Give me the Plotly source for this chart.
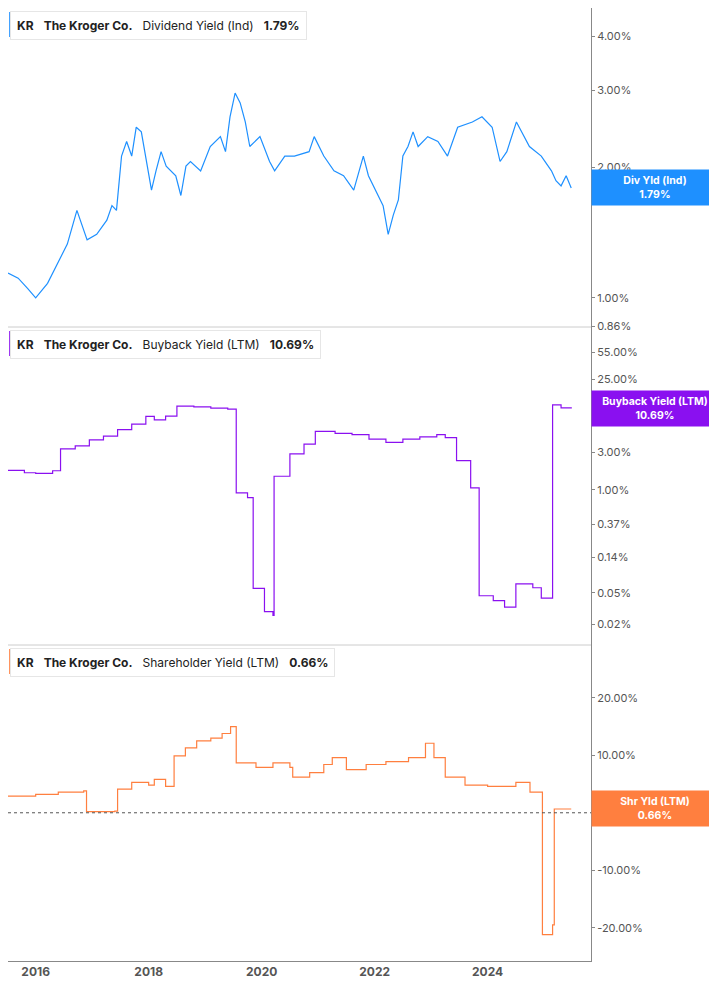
import math
import plotly.graph_objects as go
from plotly.subplots import make_subplots

# Dividend yield (Ind), % - decimal years
div_years = [2015.51, 2015.69, 2015.86, 2016.0, 2016.21, 2016.38, 2016.56, 2016.73, 2016.91, 2017.08,
             2017.26, 2017.35, 2017.43, 2017.52, 2017.61, 2017.70, 2017.78, 2017.87, 2017.96, 2018.05,
             2018.13, 2018.22, 2018.31, 2018.48, 2018.57, 2018.66, 2018.74, 2018.92, 2019.09, 2019.27,
             2019.36, 2019.44, 2019.53, 2019.62, 2019.71, 2019.79, 2019.97, 2020.14, 2020.23, 2020.41,
             2020.58, 2020.84, 2020.93, 2021.10, 2021.28, 2021.45, 2021.63, 2021.80, 2021.89, 2021.98,
             2022.15, 2022.24, 2022.33, 2022.42, 2022.50, 2022.59, 2022.68, 2022.77, 2022.94, 2023.12,
             2023.29, 2023.47, 2023.73, 2023.90, 2024.08, 2024.22, 2024.34, 2024.51, 2024.64, 2024.74,
             2024.95, 2025.13, 2025.21, 2025.30, 2025.39, 2025.48]
div_yield = [1.14, 1.11, 1.05, 1.00, 1.08, 1.20, 1.33, 1.59, 1.36, 1.40,
             1.51, 1.63, 1.59, 2.12, 2.29, 2.12, 2.47, 2.41, 2.06, 1.77,
             1.96, 2.17, 2.01, 1.91, 1.72, 2.01, 2.06, 1.96, 2.23, 2.35,
             2.17, 2.61, 2.96, 2.81, 2.54, 2.23, 2.35, 2.06, 1.96, 2.12,
             2.12, 2.17, 2.35, 2.12, 1.96, 1.91, 1.77, 2.12, 1.91, 1.81,
             1.63, 1.40, 1.55, 1.68, 2.12, 2.23, 2.41, 2.23, 2.35, 2.29,
             2.12, 2.47, 2.54, 2.61, 2.47, 2.06, 2.17, 2.54, 2.35, 2.23,
             2.12, 1.96, 1.86, 1.81, 1.91, 1.79]

# Buyback yield (LTM), %
bb_years = [2015.51, 2015.8, 2016.0, 2016.3, 2016.44, 2016.7, 2016.95, 2017.2, 2017.45, 2017.7,
            2017.95, 2018.1, 2018.3, 2018.5, 2018.8, 2019.1, 2019.4, 2019.55, 2019.75, 2019.85,
            2020.05, 2020.2, 2020.22, 2020.5, 2020.75, 2020.95, 2021.3, 2021.6, 2021.9, 2022.2,
            2022.5, 2022.8, 2023.1, 2023.25, 2023.45, 2023.7, 2023.85, 2024.1, 2024.3, 2024.5,
            2024.8, 2024.95, 2025.15, 2025.3, 2025.48]
bb_yield = [1.77, 1.65, 1.62, 1.75, 3.3, 3.6, 4.3, 4.8, 5.8, 6.8,
            8.5, 7.7, 8.6, 11.5, 11.2, 10.8, 10.5, 0.92, 0.80, 0.057,
            0.029, 0.026, 1.49, 2.86, 3.8, 5.5, 5.2, 5.0, 4.4, 4.0,
            4.4, 4.7, 5.0, 4.6, 2.35, 1.06, 0.046, 0.040, 0.033, 0.065,
            0.058, 0.043, 11.9, 10.9, 10.69]

# Shareholder yield (LTM), %
sh_years = [2015.51, 2016.0, 2016.4, 2016.85, 2016.9, 2017.4, 2017.45, 2017.7, 2018.0, 2018.1,
            2018.3, 2018.45, 2018.65, 2018.85, 2019.1, 2019.3, 2019.45, 2019.55, 2019.9, 2020.2,
            2020.5, 2020.55, 2020.85, 2021.1, 2021.25, 2021.5, 2021.85, 2022.2, 2022.6, 2022.9,
            2023.05, 2023.25, 2023.6, 2024.0, 2024.5, 2024.75, 2024.95, 2024.97, 2025.15, 2025.18,
            2025.48]
sh_yield = [2.9, 3.2, 3.6, 3.8, 0.2, 0.3, 4.1, 5.3, 4.8, 5.8,
            4.6, 9.9, 11.3, 12.5, 13.0, 13.8, 15.0, 8.7, 7.9, 8.7,
            7.9, 6.2, 7.0, 8.4, 9.6, 7.5, 8.4, 8.9, 9.6, 12.1,
            9.6, 6.2, 4.8, 4.6, 5.3, 3.6, 3.6, -21.2, -19.5, 0.66,
            0.66]

BLUE = "#1e90ff"
PURPLE = "#8a10f0"
ORANGE = "#ff7f3f"
GRID = "#cccccc"
TXT = "#555555"
FONT = "Inter"

fig = make_subplots(rows=3, cols=1, shared_xaxes=True, vertical_spacing=0)

fig.add_trace(go.Scatter(x=div_years, y=div_yield, mode="lines",
                         line=dict(color=BLUE, width=1.2)), row=1, col=1)
fig.add_trace(go.Scatter(x=bb_years, y=bb_yield, mode="lines", line_shape="hv",
                         line=dict(color=PURPLE, width=1.2)), row=2, col=1)
fig.add_trace(go.Scatter(x=sh_years, y=sh_yield, mode="lines", line_shape="hv",
                         line=dict(color=ORANGE, width=1.2)), row=3, col=1)

h = 1005.0 - 52
d1 = [1 - 319 / h, 1]
d2 = [1 - 637 / h, 1 - 319 / h]
d3 = [0, 1 - 637 / h]

tickfont = dict(family=FONT, size=11, color=TXT)
yaxis_common = dict(side="right", showgrid=False, zeroline=False, ticks="outside", ticklen=3,
                    tickcolor="#888", showline=True, linecolor="#888", tickfont=tickfont)

fig.update_layout(
    width=717, height=1005, showlegend=False,
    plot_bgcolor="white", paper_bgcolor="white",
    margin=dict(l=0, r=134, t=0, b=52),
    yaxis=dict(type="log", domain=d1, range=[-0.067, 0.667],
               tickvals=[0.86, 1, 2, 3, 4], ticktext=["0.86%", "1.00%", "2.00%", "3.00%", "4.00%"],
               **yaxis_common),
    yaxis2=dict(type="log", domain=d2, range=[-1.96, 2.06],
                tickvals=[0.02, 0.05, 0.14, 0.37, 1, 3, 8, 25, 55],
                ticktext=["0.02%", "0.05%", "0.14%", "0.37%", "1.00%", "3.00%", "8.00%", "25.00%", "55.00%"],
                **yaxis_common),
    yaxis3=dict(domain=d3, range=[-25.8, 29.2],
                tickvals=[-20, -10, 0, 10, 20],
                ticktext=["-20.00%", "-10.00%", "0.00%", "10.00%", "20.00%"],
                **yaxis_common),
)
fig.update_xaxes(range=[2015.51, 2025.83], showgrid=False, zeroline=False, showline=False)
fig.update_xaxes(tickvals=[2016, 2018, 2020, 2022, 2024],
                 ticktext=["<b>%d</b>" % y for y in [2016, 2018, 2020, 2022, 2024]],
                 tickfont=dict(family=FONT, size=12, color=TXT), ticks="", showline=True,
                 linecolor="#888", row=3, col=1)

# panel separators and zero line
for yb in [d2[1], d3[1]]:
    fig.add_shape(type="line", xref="paper", yref="paper", x0=0, x1=1, y0=yb, y1=yb,
                  line=dict(color=GRID, width=1))
fig.add_shape(type="line", xref="x3", yref="y3", x0=2015.51, x1=2025.83, y0=0, y1=0,
              line=dict(color="#555", width=1, dash="dot"))

# legend boxes
legends = [
    (d1[1], BLUE, "Dividend Yield (Ind)", "1.79%"),
    (d2[1], PURPLE, "Buyback Yield (LTM)", "10.69%"),
    (d3[1], ORANGE, "Shareholder Yield (LTM)", "0.66%"),
]
for top, col, name, val in legends:
    fig.add_annotation(xref="paper", yref="paper", x=0.003, y=top - 3 / h, xanchor="left", yanchor="top",
                       text="<b>KR</b>   <b>The Kroger Co.</b>   %s   <b>%s</b>" % (name, val),
                       showarrow=False, align="left", font=dict(family=FONT, size=12, color="#222"),
                       bgcolor="white", bordercolor="#e6e6e6", borderwidth=1, borderpad=6)
    fig.add_shape(type="rect", xref="paper", yref="paper", x0=0.002, x1=0.007,
                  y0=top - 29 / h, y1=top - 4 / h, fillcolor=col, line_width=0)

# right-side value labels
values = [("y", math.log10(1.79), BLUE, "Div Yld (Ind)", "1.79%"),
          ("y2", math.log10(10.69), PURPLE, "Buyback Yield (LTM)", "10.69%"),
          ("y3", 0.66, ORANGE, "Shr Yld (LTM)", "0.66%")]
for yr, v, col, name, val in values:
    fig.add_annotation(xref="paper", yref=yr, x=1, y=v,
                       xanchor="left", yanchor="middle", showarrow=False,
                       text="<b>%s</b><br><b>%s</b>" % (name, val), width=118,
                       font=dict(family=FONT, size=10.5, color="white"),
                       bgcolor=col, borderpad=4)

fig.write_html("out.html")
